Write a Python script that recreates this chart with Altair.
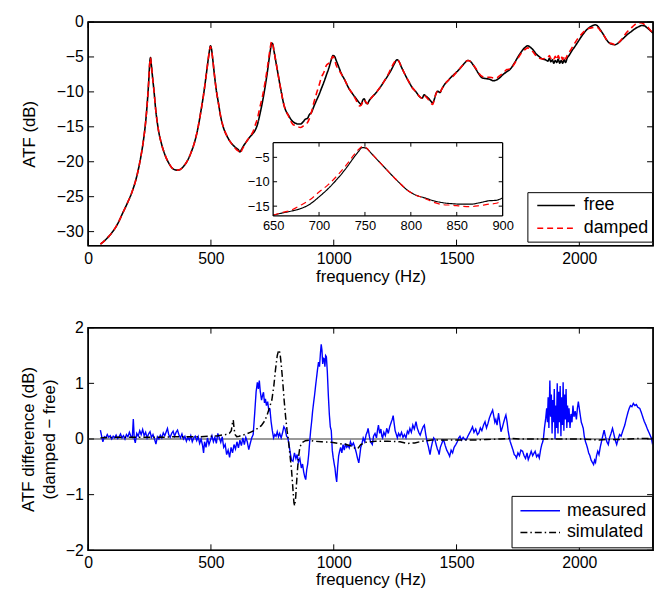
import altair as alt
import pandas as pd

FONT = "Liberation Sans"

# ---------------- top panel data ----------------
freq_top = [50, 70, 100, 120, 140, 160, 180, 200, 215, 225, 235, 242, 247, 251, 254, 257, 262, 268, 275, 285,
            300, 315, 330, 345, 360, 375, 390, 405, 420, 435, 448, 460, 470, 480, 488, 494, 498, 502, 507, 514,
            522, 530, 540, 550, 565, 580, 595, 605, 612, 618, 625, 635, 645, 650, 660, 670, 680, 690, 700, 710,
            720, 730, 738, 743, 747, 751, 757, 765, 772, 780, 788, 796, 805, 815, 825, 835, 845, 855, 865, 875,
            885, 893, 900, 910, 920, 930, 940, 950, 960, 970, 980, 990, 997, 1003, 1010, 1020, 1030, 1045, 1060, 1075,
            1090, 1105, 1112, 1118, 1124, 1130, 1137, 1145, 1160, 1175, 1190, 1205, 1220, 1235, 1248, 1257, 1265, 1275, 1290, 1305,
            1320, 1335, 1350, 1360, 1368, 1375, 1385, 1395, 1403, 1410, 1417, 1424, 1432, 1440, 1452, 1465, 1478, 1490, 1505, 1520,
            1535, 1545, 1555, 1565, 1578, 1590, 1605, 1620, 1635, 1650, 1662, 1675, 1690, 1705, 1720, 1735, 1750, 1765, 1780, 1790,
            1800, 1812, 1825, 1838, 1850, 1862, 1872, 1878, 1884, 1890, 1896, 1902, 1908, 1914, 1920, 1926, 1932, 1938, 1944, 1950,
            1958, 1968, 1980, 1995, 2010, 2025, 2040, 2055, 2065, 2075, 2085, 2098, 2110, 2122, 2135, 2145, 2155, 2165, 2180, 2195,
            2210, 2225, 2240, 2255, 2265, 2275, 2285, 2300]

free_db = [-31.8, -31.2, -30.0, -28.9, -27.4, -25.9, -24.2, -21.8, -19.2, -17.0, -14.0, -11.0, -8.3, -5.8, -5.1, -6.0, -7.8, -9.8, -12.5, -15.2,
           -17.6, -19.2, -20.3, -21.0, -21.2, -21.1, -20.6, -19.8, -18.6, -17.0, -15.0, -12.6, -10.4, -7.8, -5.6, -4.1, -3.4, -3.8, -5.2, -7.5,
           -9.8, -11.5, -13.6, -15.0, -16.3, -17.2, -17.8, -18.1, -18.3, -18.6, -18.2, -17.6, -17.1, -16.85, -16.4, -16.0, -15.5, -14.6, -13.1, -11.4,
           -9.4, -7.1, -5.0, -3.8, -3.0, -3.1, -4.2, -5.8, -7.2, -8.8, -10.3, -11.7, -12.7, -13.3, -13.9, -14.3, -14.5, -14.6, -14.6, -14.3,
           -13.9, -13.8, -13.3, -12.9, -12.0, -11.2, -10.4, -9.5, -8.6, -7.6, -6.6, -5.4, -4.8, -4.9, -5.5, -6.4, -7.3, -8.3, -9.4, -10.2,
           -10.9, -11.6, -11.8, -11.2, -11.0, -11.5, -11.7, -11.2, -10.6, -10.0, -9.3, -8.5, -7.7, -6.8, -5.9, -5.4, -5.6, -6.4, -7.5, -8.5,
           -9.4, -10.0, -10.7, -10.9, -10.4, -10.6, -10.9, -11.3, -11.6, -11.0, -10.2, -9.9, -10.1, -9.6, -8.9, -8.4, -7.9, -7.5, -7.0, -6.4,
           -5.8, -5.5, -5.6, -6.0, -6.7, -7.4, -8.0, -8.1, -8.2, -8.4, -8.3, -8.0, -7.5, -7.1, -6.7, -5.9, -5.0, -4.2, -3.6, -3.4,
           -3.6, -4.0, -4.6, -5.0, -5.3, -5.4, -5.6, -5.2, -5.7, -5.4, -5.9, -5.5, -5.8, -5.3, -5.9, -5.5, -5.9, -5.4, -5.8, -5.2,
           -4.8, -4.2, -3.6, -2.8, -2.0, -1.3, -0.8, -0.5, -0.4, -0.6, -1.1, -1.8, -2.5, -3.0, -3.2, -3.25, -3.1, -2.8, -2.3, -1.8,
           -1.4, -1.0, -0.7, -0.5, -0.55, -0.8, -1.1, -1.6]

damped_db = [-31.8, -31.2, -30.0, -28.9, -27.4, -25.9, -24.2, -21.8, -19.2, -17.0, -14.0, -11.0, -8.3, -5.8, -5.1, -6.0, -7.8, -9.8, -12.5, -15.2,
             -17.6, -19.2, -20.3, -21.0, -21.2, -21.1, -20.6, -19.8, -18.6, -17.0, -15.0, -12.6, -10.4, -7.8, -5.6, -4.1, -3.5, -3.9, -5.2, -7.5,
             -9.8, -11.5, -13.6, -15.0, -16.3, -17.2, -17.9, -18.3, -18.5, -18.8, -18.4, -17.7, -17.1, -16.85, -16.3, -15.8, -14.8, -13.7, -12.1, -10.6,
             -8.7, -6.5, -4.5, -3.4, -2.8, -3.0, -4.2, -5.8, -7.2, -8.8, -10.3, -11.7, -12.7, -13.4, -14.2, -14.7, -14.8, -15.0, -15.1, -14.9,
             -14.6, -14.4, -13.9, -12.8, -11.4, -10.2, -9.1, -7.9, -7.2, -6.2, -5.9, -5.3, -4.9, -5.3, -6.2, -6.8, -7.4, -8.3, -9.4, -10.2,
             -11.1, -12.0, -11.9, -11.4, -11.1, -11.4, -11.7, -11.2, -10.6, -10.0, -9.3, -8.5, -7.6, -6.5, -5.7, -5.4, -5.6, -6.4, -7.5, -8.5,
             -9.4, -10.0, -10.7, -10.9, -10.5, -10.7, -11.1, -11.6, -11.8, -11.0, -10.2, -9.9, -10.1, -9.6, -8.9, -8.4, -8.0, -7.6, -7.0, -6.4,
             -5.8, -5.5, -5.6, -6.0, -6.6, -7.3, -7.8, -7.9, -7.9, -8.0, -8.0, -7.7, -7.3, -6.8, -6.7, -6.0, -5.2, -4.4, -3.9, -3.7,
             -3.9, -4.3, -4.9, -5.2, -5.3, -5.2, -5.1, -4.8, -5.2, -4.9, -5.3, -4.9, -5.4, -4.8, -5.3, -4.9, -5.4, -4.8, -5.3, -4.8,
             -4.4, -3.8, -3.1, -2.3, -1.7, -1.2, -0.9, -0.8, -0.7, -0.8, -1.2, -1.8, -2.5, -3.0, -3.1, -3.25, -3.1, -2.8, -2.1, -1.4,
             -0.9, -0.4, -0.1, -0.15, -0.35, -0.6, -1.0, -1.6]

x_ticks = [0, 500, 1000, 1500, 2000]
y_ticks_top = [0, -5, -10, -15, -20, -25, -30]
inset_x_ticks = [650, 700, 750, 800, 850, 900]
inset_y_ticks = [-5, -10, -15]

# ---------------- bottom panel data ----------------
freq_meas = [50, 55, 60, 66, 72, 78, 84, 90, 96, 102, 108, 114, 120, 126, 132, 138, 144, 150, 156, 162,
             168, 174, 180, 184, 188, 192, 198, 204, 210, 216, 222, 228, 234, 240, 246, 252, 258, 264, 270, 276,
             282, 288, 294, 300, 306, 312, 318, 323, 328, 334, 340, 346, 352, 358, 364, 370, 376, 382, 388, 394,
             400, 406, 412, 418, 424, 430, 436, 442, 448, 454, 460, 466, 470, 474, 480, 486, 492, 498, 504, 510,
             516, 522, 528, 534, 540, 546, 552, 558, 564, 570, 576, 582, 588, 594, 600, 606, 612, 618, 624, 630,
             636, 642, 648, 654, 660, 666, 672, 678, 684, 689, 693, 697, 701, 706, 710, 714, 718, 722, 726, 731,
             736, 740, 745, 750, 755, 760, 765, 770, 775, 780, 786, 792, 797, 802, 808, 813, 818, 823, 828, 834,
             840, 846, 851, 856, 862, 868, 873, 878, 882, 886, 890, 894, 898, 902, 906, 910, 914, 918, 922, 926,
             930, 934, 938, 942, 946, 949, 952, 955, 958, 961, 964, 967, 970, 974, 978, 982, 986, 990, 994, 998,
             1002, 1005, 1008, 1012, 1016, 1020, 1024, 1028, 1033, 1038, 1043, 1048, 1053, 1058, 1063, 1068, 1074, 1080, 1086, 1092,
             1097, 1102, 1106, 1110, 1114, 1120, 1126, 1132, 1136, 1140, 1145, 1150, 1157, 1162, 1168, 1174, 1178, 1182, 1187, 1192,
             1196, 1199, 1204, 1210, 1216, 1222, 1228, 1234, 1238, 1242, 1246, 1250, 1255, 1259, 1264, 1270, 1276, 1282, 1288, 1294,
             1300, 1305, 1310, 1316, 1322, 1328, 1335, 1340, 1346, 1352, 1358, 1364, 1369, 1374, 1380, 1386, 1392, 1397, 1402, 1407,
             1412, 1417, 1422, 1426, 1429, 1434, 1440, 1445, 1449, 1454, 1460, 1466, 1472, 1478, 1484, 1490, 1497, 1503, 1509, 1514,
             1520, 1527, 1534, 1540, 1546, 1552, 1558, 1565, 1571, 1578, 1585, 1591, 1597, 1603, 1610, 1616, 1622, 1628, 1634, 1640,
             1647, 1652, 1656, 1660, 1665, 1671, 1676, 1681, 1686, 1692, 1697, 1701, 1706, 1710, 1714, 1718, 1724, 1730, 1735, 1740,
             1744, 1750, 1756, 1762, 1769, 1775, 1781, 1787, 1792, 1798, 1804, 1810, 1816, 1820, 1826, 1832, 1837, 1842, 1847, 1851,
             1854, 1858, 1863, 1867, 1870, 1873, 1876, 1880, 1883, 1886, 1889, 1892, 1895, 1898, 1901, 1904, 1907, 1910, 1913, 1916,
             1919, 1922, 1925, 1928, 1931, 1934, 1937, 1940, 1943, 1946, 1949, 1952, 1955, 1958, 1962, 1966, 1970, 1974, 1978, 1983,
             1988, 1992, 1996, 2003, 2008, 2012, 2016, 2020, 2025, 2029, 2033, 2038, 2043, 2048, 2053, 2058, 2062, 2066, 2070, 2075,
             2080, 2085, 2090, 2095, 2101, 2106, 2112, 2118, 2123, 2129, 2135, 2140, 2146, 2152, 2158, 2164, 2170, 2178, 2185, 2192,
             2198, 2203, 2208, 2214, 2220, 2226, 2232, 2238, 2246, 2252, 2258, 2264, 2271, 2277, 2283, 2288, 2293, 2297, 2300]

meas_db = [0.16, 0.05, -0.05, 0.04, 0.02, 0.08, 0.03, 0.06, 0.0, 0.05, 0.02, 0.07, 0.01, 0.04, 0.09, 0.02, 0.06, 0.0, 0.08, 0.04,
           0.12, 0.05, 0.03, 0.36, 0.0, -0.07, 0.1, 0.05, 0.15, 0.08, 0.17, 0.06, 0.12, 0.02, 0.09, 0.13, 0.03, 0.08, 0.0, -0.09,
           0.04, 0.0, 0.07, 0.02, 0.11, 0.06, 0.13, 0.19, 0.08, 0.03, 0.1, 0.14, 0.05, 0.12, 0.16, 0.07, 0.02, 0.09, 0.0, 0.05,
           -0.04, 0.03, -0.02, 0.06, -0.05, 0.02, 0.05, -0.03, 0.04, -0.08, 0.0, -0.12, -0.25, -0.05, -0.15, 0.02, -0.1, -0.02, 0.06, -0.05,
           0.03, -0.08, 0.1, 0.02, -0.06, 0.04, -0.15, -0.1, -0.28, -0.2, -0.33, -0.15, -0.25, -0.1, -0.18, -0.05, -0.16, -0.02, -0.12, 0.02,
           -0.1, 0.03, -0.05, -0.19, -0.08, 0.02, 0.08, 0.45, 0.85, 1.02, 0.9, 1.05, 0.85, 0.7, 0.78, 0.84, 0.65, 0.72, 0.6, 0.67,
           0.5, 0.55, 0.31, 0.15, 0.02, 0.08, 0.05, 0.13, 0.04, 0.1, 0.02, 0.12, 0.22, 0.18, 0.05, 0.02, -0.1, -0.25, -0.38, -0.4,
           -0.25, -0.35, -0.28, -0.42, -0.35, -0.52, -0.45, -0.6, -0.68, -0.73, -0.55, -0.45, -0.28, -0.05, 0.15, 0.31, 0.5, 0.65, 0.79, 0.95,
           1.1, 1.25, 1.38, 1.3, 1.55, 1.7, 1.6, 1.35, 1.45, 1.44, 1.3, 1.5, 1.48, 1.2, 0.79, 0.45, 0.22, 0.15, -0.2, -0.34,
           -0.45, -0.52, -0.65, -0.77, -0.5, -0.3, -0.22, -0.15, -0.25, -0.1, -0.2, -0.08, -0.15, -0.12, -0.16, -0.05, -0.12, -0.07, -0.15, -0.25,
           -0.35, -0.43, -0.3, -0.15, -0.1, 0.02, -0.05, 0.08, 0.12, 0.19, 0.05, -0.05, -0.1, 0.05, 0.1, 0.02, 0.15, 0.25, 0.1, 0.18,
           0.05, 0.02, 0.12, 0.06, 0.19, 0.1, 0.22, 0.3, 0.35, 0.42, 0.28, 0.15, 0.08, 0.02, 0.1, 0.05, 0.12, 0.03, 0.08, 0.02,
           0.14, 0.1, 0.19, 0.12, 0.25, 0.18, 0.31, 0.2, 0.12, 0.07, 0.15, 0.22, 0.25, 0.1, -0.05, -0.15, -0.28, -0.15, -0.05, 0.02,
           -0.01, -0.1, -0.18, -0.22, -0.28, -0.15, -0.08, -0.02, -0.04, -0.12, -0.2, -0.25, -0.31, -0.2, -0.25, -0.15, -0.1, -0.05, 0.02, 0.05,
           -0.02, 0.03, -0.01, -0.01, 0.05, 0.1, 0.15, 0.22, 0.12, 0.18, 0.08, 0.11, 0.2, 0.15, 0.25, 0.31, 0.2, 0.28, 0.38, 0.45,
           0.52, 0.4, 0.3, 0.35, 0.25, 0.46, 0.3, 0.13, 0.2, 0.3, 0.38, 0.43, 0.3, 0.15, 0.05, -0.04, -0.12, -0.2, -0.28, -0.3,
           -0.34, -0.25, -0.3, -0.2, -0.22, -0.3, -0.35, -0.25, -0.37, -0.3, -0.22, -0.3, -0.25, -0.22, -0.32, -0.28, -0.34, -0.2, -0.1, -0.05,
           0.02, 0.2, 0.37, 0.55, 0.3, 0.75, 0.2, 1.05, 0.4, 0.8, 0.1, 0.7, 0.3, 0.9, 0.0, 0.6, 0.2, 1.0, 0.1, 0.85,
           0.3, 0.95, 0.05, 0.75, 0.25, 1.02, 0.15, 0.8, 0.35, 0.9, 0.2, 0.6, 0.3, 0.55, 0.2, 0.45, 0.3, 0.6, 0.4, 0.5,
           0.35, 0.55, 0.67, 0.45, 0.3, 0.25, 0.19, 0.05, -0.05, -0.1, -0.16, -0.25, -0.3, -0.38, -0.42, -0.46, -0.38, -0.42, -0.3, -0.22,
           -0.28, -0.15, -0.05, 0.05, 0.16, 0.05, -0.05, -0.1, 0.02, 0.1, 0.19, 0.1, -0.02, -0.1, 0.0, 0.08, 0.05, 0.16, 0.25, 0.38,
           0.48, 0.55, 0.6, 0.58, 0.64, 0.6, 0.62, 0.57, 0.55, 0.48, 0.4, 0.32, 0.25, 0.18, 0.12, 0.07, 0.02, -0.07, -0.05]

freq_sim = [50, 100, 150, 200, 250, 300, 350, 400, 450, 500, 530, 560, 575, 583, 588, 591, 594, 598, 605, 615,
            630, 645, 660, 675, 690, 705, 718, 728, 738, 748, 756, 763, 770, 776, 781, 786, 792, 798, 804, 810,
            816, 822, 828, 833, 838, 841, 845, 850, 856, 862, 870, 885, 900, 920, 950, 990, 1020, 1050, 1075, 1090,
            1100, 1110, 1130, 1170, 1220, 1270, 1300, 1330, 1360, 1400, 1450, 1500, 1560, 1620, 1680, 1720, 1760, 1800, 1850, 1900,
            1950, 2000, 2050, 2080, 2110, 2150, 2200, 2250, 2300]

sim_db = [0.02, 0.03, 0.03, 0.03, 0.03, 0.03, 0.04, 0.04, 0.04, 0.05, 0.06, 0.08, 0.1, 0.15, 0.3, 0.34, 0.2, 0.08, 0.04, 0.05,
          0.07, 0.09, 0.12, 0.15, 0.19, 0.24, 0.32, 0.42, 0.56, 0.7, 0.95, 1.25, 1.5, 1.6, 1.55, 1.35, 1.05, 0.7, 0.4, 0.15,
          -0.05, -0.3, -0.55, -0.85, -1.15, -1.2, -1.05, -0.7, -0.35, -0.15, -0.07, -0.03, -0.02, -0.04, -0.05, -0.06, -0.08, -0.1, -0.13, -0.18,
          -0.16, -0.1, -0.06, -0.04, -0.04, -0.05, -0.08, -0.07, -0.04, -0.02, -0.02, -0.02, -0.02, -0.01, 0.0, 0.01, 0.0, 0.0, 0.0, 0.0,
          0.0, 0.0, -0.01, -0.02, -0.01, -0.01, 0.0, 0.01, 0.01]

y_ticks_bot = [-2, -1, 0, 1, 2]

# ---------------- layout constants ----------------
W = 571
H1 = 226
H2 = 225
TICK = 6
ITICK = 4
IX0, IX1 = 187, 419      # inset horizontal extent inside the top plot
IYT, IYB = 122, 196      # inset vertical extent inside the top plot

n = len(freq_top)
top_df = pd.DataFrame({"f": freq_top * 2, "v": free_db + damped_db,
                       "series": ["free"] * n + ["damped"] * n})
bot_df = pd.DataFrame({"f": freq_meas + freq_sim, "v": meas_db + sim_db,
                       "series": ["measured"] * len(freq_meas) + ["simulated"] * len(freq_sim)})
one = pd.DataFrame({"k": [0]})

# ---------------- top panel ----------------
mx = alt.Scale(domain=[0, 2300], nice=False, zero=False)
my = alt.Scale(domain=[-32, 0], nice=False, zero=False)
ax_x = alt.Axis(values=x_ticks, format="d", title="frequency (Hz)", ticks=False, domain=False, grid=False,
                labelFlush=False, labelPadding=5, titlePadding=2)
ax_y = alt.Axis(values=y_ticks_top, format="d", title="ATF (dB)", ticks=False, domain=False, grid=False,
                labelFlush=False, labelPadding=5, titlePadding=18)

leg_top = alt.Legend(title=None, orient="none", legendX=444, legendY=172, symbolType="stroke",
                     symbolSize=1444, symbolStrokeWidth=1.6, clipHeight=21, labelFontSize=18,
                     labelFont=FONT, labelColor="black", labelOffset=8, padding=3, symbolOffset=6,
                     strokeColor="black", fillColor="white")
col_top = alt.Color("series:N", scale=alt.Scale(domain=["free", "damped"], range=["#000000", "#ff0000"]),
                    legend=leg_top)
dash_top = alt.StrokeDash("series:N", scale=alt.Scale(domain=["free", "damped"], range=[[1, 0], [6, 4]]),
                          legend=leg_top)

free_line = alt.Chart(top_df).transform_filter("datum.series == 'free'").mark_line(
    strokeWidth=1.6, interpolate="monotone", clip=True).encode(
    x=alt.X("f:Q", scale=mx, axis=ax_x), y=alt.Y("v:Q", scale=my, axis=ax_y),
    color=col_top, strokeDash=dash_top)
damped_line = alt.Chart(top_df).transform_filter("datum.series == 'damped'").mark_line(
    strokeWidth=1.6, interpolate="monotone", clip=True).encode(
    x=alt.X("f:Q", scale=mx, axis=ax_x), y=alt.Y("v:Q", scale=my, axis=ax_y),
    color=col_top, strokeDash=dash_top)

yt_top = pd.DataFrame({"t": y_ticks_top})
xt = pd.DataFrame({"t": x_ticks})
tk_l = alt.Chart(yt_top).mark_rule(color="black", strokeWidth=1).encode(
    y=alt.Y("t:Q", scale=my, axis=ax_y), x=alt.value(0), x2=alt.value(TICK))
tk_r = alt.Chart(yt_top).mark_rule(color="black", strokeWidth=1).encode(
    y=alt.Y("t:Q", scale=my, axis=ax_y), x=alt.value(W - TICK), x2=alt.value(W))
tk_b = alt.Chart(xt).mark_rule(color="black", strokeWidth=1).encode(
    x=alt.X("t:Q", scale=mx, axis=ax_x), y=alt.value(H1), y2=alt.value(H1 - TICK))
tk_t = alt.Chart(xt).mark_rule(color="black", strokeWidth=1).encode(
    x=alt.X("t:Q", scale=mx, axis=ax_x), y=alt.value(0), y2=alt.value(TICK))
frame_top = alt.Chart(one).mark_rect(fill="white", fillOpacity=0, stroke="black", strokeWidth=1.4).encode(
    x=alt.value(0), x2=alt.value(W), y=alt.value(0), y2=alt.value(H1))

main_group = alt.layer(free_line, damped_line, tk_l, tk_r, tk_b, tk_t, frame_top)

# inset
ix = alt.Scale(domain=[650, 900], range=[IX0, IX1], nice=False, zero=False)
iy = alt.Scale(domain=[-17, -2], range=[IYB, IYT], nice=False, zero=False)
iax_x = alt.Axis(orient="bottom", offset=-(H1 - IYB), values=inset_x_ticks, format="d", title=None, ticks=False,
                 domain=False, grid=False, labelFontSize=13, labelPadding=4, labelFlush=False)
iax_y = alt.Axis(orient="left", offset=-IX0, values=inset_y_ticks, format="d", title=None, ticks=False,
                 domain=False, grid=False, labelFontSize=13, labelPadding=4, labelFlush=False)

inset_box = alt.Chart(one).mark_rect(fill="white", strokeWidth=0).encode(
    x=alt.XDatum(650, scale=ix, axis=iax_x), x2=alt.X2Datum(900),
    y=alt.YDatum(-17, scale=iy, axis=iax_y), y2=alt.Y2Datum(-2))
in_range = "datum.f >= 650 && datum.f <= 900"
inset_free = alt.Chart(top_df).transform_filter(in_range + " && datum.series == 'free'").mark_line(
    strokeWidth=1.2, interpolate="monotone", clip=True).encode(
    x=alt.X("f:Q", scale=ix, axis=iax_x), y=alt.Y("v:Q", scale=iy, axis=iax_y),
    color=col_top, strokeDash=dash_top)
inset_damped = alt.Chart(top_df).transform_filter(in_range + " && datum.series == 'damped'").mark_line(
    strokeWidth=1.2, interpolate="monotone", clip=True).encode(
    x=alt.X("f:Q", scale=ix, axis=iax_x), y=alt.Y("v:Q", scale=iy, axis=iax_y),
    color=col_top, strokeDash=dash_top)
# inset border: vertical edges at the domain ends, horizontal edges at the range ends
border_v = alt.Chart(pd.DataFrame({"e": [650, 900]})).mark_rule(color="black", strokeWidth=1.3).encode(
    x=alt.X("e:Q", scale=ix, axis=iax_x), y=alt.YDatum(-17, scale=iy, axis=iax_y), y2=alt.Y2Datum(-2))
border_h = alt.Chart(pd.DataFrame({"e": [-17, -2]})).mark_rule(color="black", strokeWidth=1.3).encode(
    y=alt.Y("e:Q", scale=iy, axis=iax_y), x=alt.XDatum(650, scale=ix, axis=iax_x), x2=alt.X2Datum(900))
ixt = pd.DataFrame({"t": inset_x_ticks[1:-1]})
iyt = pd.DataFrame({"t": inset_y_ticks})
itk_b = alt.Chart(ixt).mark_rule(color="black", strokeWidth=1, y2Offset=-ITICK).encode(
    x=alt.X("t:Q", scale=ix, axis=iax_x), y=alt.YDatum(-17, scale=iy, axis=iax_y), y2=alt.Y2Datum(-17))
itk_t = alt.Chart(ixt).mark_rule(color="black", strokeWidth=1, y2Offset=ITICK).encode(
    x=alt.X("t:Q", scale=ix, axis=iax_x), y=alt.YDatum(-2, scale=iy, axis=iax_y), y2=alt.Y2Datum(-2))
itk_l = alt.Chart(iyt).mark_rule(color="black", strokeWidth=1, x2Offset=ITICK).encode(
    y=alt.Y("t:Q", scale=iy, axis=iax_y), x=alt.XDatum(650, scale=ix, axis=iax_x), x2=alt.X2Datum(650))
itk_r = alt.Chart(iyt).mark_rule(color="black", strokeWidth=1, x2Offset=-ITICK).encode(
    y=alt.Y("t:Q", scale=iy, axis=iax_y), x=alt.XDatum(900, scale=ix, axis=iax_x), x2=alt.X2Datum(900))

inset_group = alt.layer(inset_box, inset_free, inset_damped, border_v, border_h, itk_b, itk_t, itk_l, itk_r)

top = alt.layer(main_group, inset_group).resolve_scale(x="independent", y="independent").properties(
    width=W, height=H1)

# ---------------- bottom panel ----------------
by = alt.Scale(domain=[-2, 2], nice=False, zero=False)
bax_x = alt.Axis(values=x_ticks, format="d", title="frequency (Hz)", ticks=False, domain=False, grid=False,
                 labelFlush=False, labelPadding=4, titlePadding=2)
bax_y = alt.Axis(values=y_ticks_bot, format="d", title=["ATF difference (dB)", "(damped \u2212 free)"], ticks=False,
                 domain=False, grid=False, labelFlush=False, labelPadding=5, titlePadding=7, titleLineHeight=21)

leg_bot = alt.Legend(title=None, orient="none", legendX=428, legendY=170, symbolType="stroke",
                     symbolSize=1600, symbolStrokeWidth=1.6, clipHeight=20, labelFontSize=18,
                     labelFont=FONT, labelColor="black", labelOffset=6, padding=5, symbolOffset=3,
                     strokeColor="black", fillColor="white")
col_bot = alt.Color("series:N", scale=alt.Scale(domain=["measured", "simulated"], range=["#0000ff", "#000000"]),
                    legend=leg_bot)
dash_bot = alt.StrokeDash("series:N", scale=alt.Scale(domain=["measured", "simulated"],
                                                      range=[[1, 0], [7, 3, 1.5, 3]]), legend=leg_bot)

zero_line = alt.Chart(one).mark_rule(color="#999999", strokeWidth=2).encode(
    y=alt.YDatum(0, scale=by, axis=bax_y))
meas_line = alt.Chart(bot_df).transform_filter("datum.series == 'measured'").mark_line(
    strokeWidth=1.4, clip=True).encode(
    x=alt.X("f:Q", scale=mx, axis=bax_x), y=alt.Y("v:Q", scale=by, axis=bax_y),
    color=col_bot, strokeDash=dash_bot)
sim_line = alt.Chart(bot_df).transform_filter("datum.series == 'simulated'").mark_line(
    strokeWidth=1.5, clip=True).encode(
    x=alt.X("f:Q", scale=mx, axis=bax_x), y=alt.Y("v:Q", scale=by, axis=bax_y),
    color=col_bot, strokeDash=dash_bot)
yt_bot = pd.DataFrame({"t": y_ticks_bot})
btk_l = alt.Chart(yt_bot).mark_rule(color="black", strokeWidth=1).encode(
    y=alt.Y("t:Q", scale=by, axis=bax_y), x=alt.value(0), x2=alt.value(TICK))
btk_r = alt.Chart(yt_bot).mark_rule(color="black", strokeWidth=1).encode(
    y=alt.Y("t:Q", scale=by, axis=bax_y), x=alt.value(W - TICK), x2=alt.value(W))
btk_b = alt.Chart(xt).mark_rule(color="black", strokeWidth=1).encode(
    x=alt.X("t:Q", scale=mx, axis=bax_x), y=alt.value(H2), y2=alt.value(H2 - TICK))
btk_t = alt.Chart(xt).mark_rule(color="black", strokeWidth=1).encode(
    x=alt.X("t:Q", scale=mx, axis=bax_x), y=alt.value(0), y2=alt.value(TICK))
frame_bot = alt.Chart(one).mark_rect(fill="white", fillOpacity=0, stroke="black", strokeWidth=1.4).encode(
    x=alt.value(0), x2=alt.value(W), y=alt.value(0), y2=alt.value(H2))

bottom = alt.layer(zero_line, meas_line, sim_line, btk_l, btk_r, btk_b, btk_t, frame_bot).properties(
    width=W, height=H2)

chart = alt.vconcat(top, bottom, spacing=34).resolve_scale(
    x="independent", y="independent", color="independent", strokeDash="independent"
).resolve_legend(color="independent", strokeDash="independent").properties(
    padding={"left": 11, "top": 2, "right": 0, "bottom": 0}
).configure(font=FONT).configure_view(stroke="black", strokeWidth=1.4).configure_axis(
    labelFont=FONT, titleFont=FONT, labelFontSize=16, titleFontSize=17, titleFontWeight="normal",
    labelColor="black", titleColor="black")

chart.save("out.html", embed_options={"renderer": "svg", "actions": False})
